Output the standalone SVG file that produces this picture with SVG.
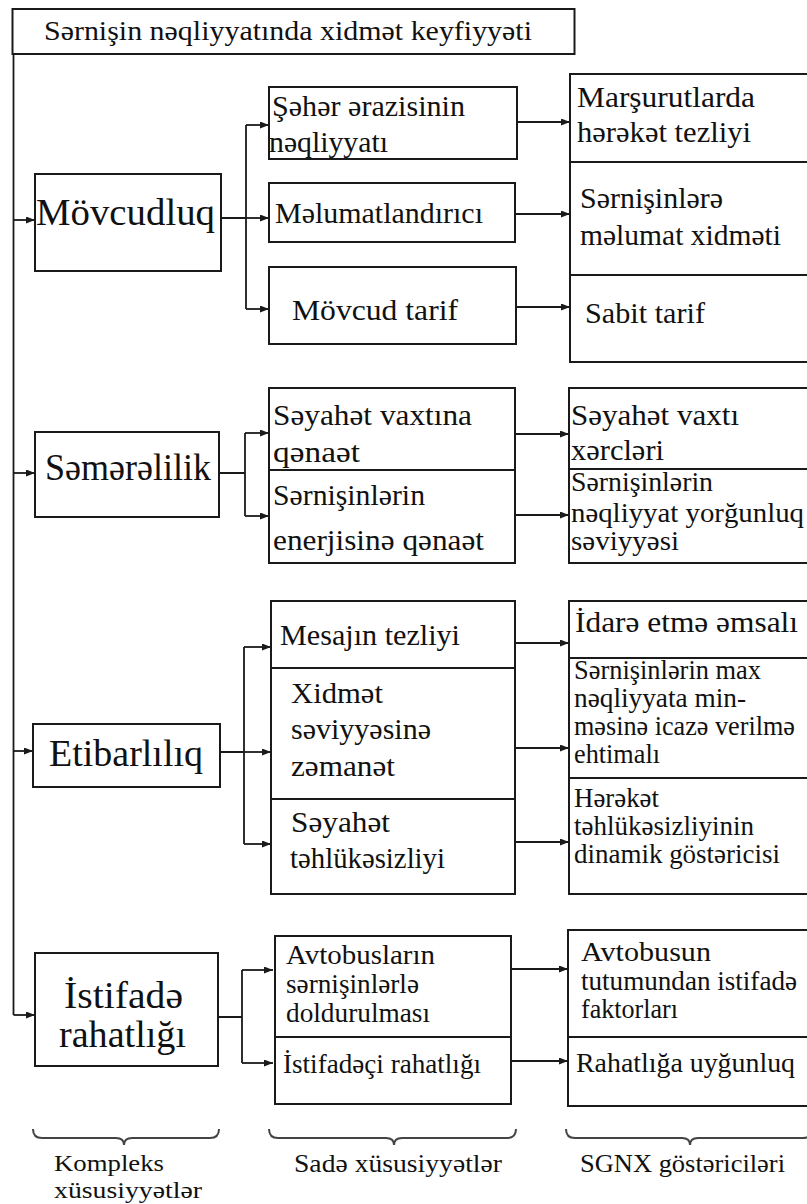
<svg xmlns="http://www.w3.org/2000/svg" width="807" height="1204" viewBox="0 0 807 1204">
<defs>
<style>
.box{fill:#fff;stroke:#1a1a1a;stroke-width:2}
.t{font-family:"Liberation Serif","DejaVu Serif","Times New Roman",serif;fill:#111}
.xl{font-size:37px}
.l{font-size:30px}
.m{font-size:27px}
.s{font-size:27px}
.b{font-size:26px}
.bs{font-size:23px}
.c{fill:none;stroke:#1a1a1a;stroke-width:1.8}
.a{marker-end:url(#arr)}
.br{fill:none;stroke:#444;stroke-width:2}
</style>
<marker id="arr" markerUnits="userSpaceOnUse" markerWidth="9" markerHeight="7" refX="9" refY="3.5" orient="auto">
<path d="M0,0 L9,3.5 L0,7 z" fill="#1a1a1a"/>
</marker>
</defs>
<rect width="807" height="1204" fill="#fff"/>

<g id="connectors">
<path class="c" d="M13.5,54 V1015"/>
<path class="c a" d="M13.5,1015 H35"/>
<path class="c a" d="M13.5,220 H35"/>
<path class="c a" d="M13.5,473 H35"/>
<path class="c a" d="M13.5,751 H33"/>
<path class="c" d="M221,218 H246 M246,125 V309"/>
<path class="c a" d="M246,125 H269"/>
<path class="c a" d="M246,218 H269"/>
<path class="c a" d="M246,309 H269"/>
<path class="c a" d="M517,122 H570"/>
<path class="c a" d="M515,214 H570"/>
<path class="c a" d="M516,307 H570"/>
<path class="c" d="M219,473 H245 M245,433 V516"/>
<path class="c a" d="M245,433 H269"/>
<path class="c a" d="M245,516 H269"/>
<path class="c a" d="M515,434 H569"/>
<path class="c a" d="M515,515 H569"/>
<path class="c" d="M220,752 H244 M244,647 V844"/>
<path class="c a" d="M244,647 H271"/>
<path class="c a" d="M244,752 H271"/>
<path class="c a" d="M244,844 H271"/>
<path class="c a" d="M515,643 H569"/>
<path class="c a" d="M515,748 H569"/>
<path class="c a" d="M515,842 H569"/>
<path class="c" d="M218,1017 H242 M242,970 V1063"/>
<path class="c a" d="M242,970 H273"/>
<path class="c a" d="M242,1063 H273"/>
<path class="c a" d="M511,969 H568"/>
<path class="c a" d="M511,1061 H568"/>
</g>

<g id="title">
<rect class="box" x="12.5" y="9" width="562" height="45"/>
<text class="t" x="44" y="40" font-size="27" textLength="488" lengthAdjust="spacingAndGlyphs">Sərnişin nəqliyyatında xidmət keyfiyyəti</text>
</g>

<g id="movcudluq">
<rect class="box" x="35" y="174" width="186" height="97"/>
<text class="t xl" x="36" y="225" textLength="179" lengthAdjust="spacingAndGlyphs">Mövcudluq</text>
</g>
<g id="m1">
<rect class="box" x="269" y="87" width="248" height="72"/>
<text class="t l" x="272" y="116" textLength="193" lengthAdjust="spacingAndGlyphs">Şəhər ərazisinin</text>
<text class="t l" x="269" y="152" textLength="119" lengthAdjust="spacingAndGlyphs">nəqliyyatı</text>
</g>
<g id="m2">
<rect class="box" x="269" y="183" width="246" height="59"/>
<text class="t l" x="275" y="223" textLength="208" lengthAdjust="spacingAndGlyphs">Məlumatlandırıcı</text>
</g>
<g id="m3">
<rect class="box" x="269" y="267" width="247" height="77"/>
<text class="t l" x="292" y="320" textLength="166" lengthAdjust="spacingAndGlyphs">Mövcud tarif</text>
</g>
<g id="r1">
<rect class="box" x="570" y="74" width="260" height="88"/>
<text class="t l" x="577" y="107" textLength="178" lengthAdjust="spacingAndGlyphs">Marşurutlarda</text>
<text class="t l" x="577" y="142" textLength="174" lengthAdjust="spacingAndGlyphs">hərəkət tezliyi</text>
</g>
<g id="r2">
<rect class="box" x="570" y="162" width="260" height="113"/>
<text class="t l" x="580" y="208" textLength="143" lengthAdjust="spacingAndGlyphs">Sərnişinlərə</text>
<text class="t l" x="580" y="245" textLength="201" lengthAdjust="spacingAndGlyphs">məlumat xidməti</text>
</g>
<g id="r3">
<rect class="box" x="570" y="275" width="260" height="87"/>
<text class="t l" x="585" y="323" textLength="120" lengthAdjust="spacingAndGlyphs">Sabit tarif</text>
</g>

<g id="semerelilik">
<rect class="box" x="35" y="432" width="184" height="85"/>
<text class="t xl" x="45" y="480" textLength="166" lengthAdjust="spacingAndGlyphs">Səmərəlilik</text>
</g>
<g id="s1">
<rect class="box" x="269" y="388" width="246" height="82"/>
<text class="t l" x="273" y="425" textLength="199" lengthAdjust="spacingAndGlyphs">Səyahət vaxtına</text>
<text class="t l" x="273" y="462" textLength="87" lengthAdjust="spacingAndGlyphs">qənaət</text>
</g>
<g id="s2">
<rect class="box" x="269" y="470" width="246" height="93"/>
<text class="t l" x="273" y="505" textLength="152" lengthAdjust="spacingAndGlyphs">Sərnişinlərin</text>
<text class="t l" x="273" y="550" textLength="211" lengthAdjust="spacingAndGlyphs">enerjisinə qənaət</text>
</g>
<g id="sr1">
<rect class="box" x="569" y="388" width="260" height="81"/>
<text class="t l" x="571" y="425" textLength="168" lengthAdjust="spacingAndGlyphs">Səyahət vaxtı</text>
<text class="t l" x="571" y="460" textLength="93" lengthAdjust="spacingAndGlyphs">xərcləri</text>
</g>
<g id="sr2">
<rect class="box" x="569" y="469" width="260" height="94"/>
<text class="t s" x="571" y="491" textLength="142" lengthAdjust="spacingAndGlyphs">Sərnişinlərin</text>
<text class="t s" x="571" y="522" textLength="233" lengthAdjust="spacingAndGlyphs">nəqliyyat yorğunluq</text>
<text class="t s" x="571" y="550" textLength="108" lengthAdjust="spacingAndGlyphs">səviyyəsi</text>
</g>

<g id="etibarliliq">
<rect class="box" x="33" y="724" width="187" height="63"/>
<text class="t xl" x="49" y="766" textLength="154" lengthAdjust="spacingAndGlyphs">Etibarlılıq</text>
</g>
<g id="e1">
<rect class="box" x="271" y="601" width="244" height="67"/>
<text class="t l" x="280" y="645" textLength="180" lengthAdjust="spacingAndGlyphs">Mesajın tezliyi</text>
</g>
<g id="e2">
<rect class="box" x="271" y="668" width="244" height="131"/>
<text class="t l" x="291" y="703" textLength="92" lengthAdjust="spacingAndGlyphs">Xidmət</text>
<text class="t l" x="291" y="739" textLength="140" lengthAdjust="spacingAndGlyphs">səviyyəsinə</text>
<text class="t l" x="291" y="776" textLength="104" lengthAdjust="spacingAndGlyphs">zəmanət</text>
</g>
<g id="e3">
<rect class="box" x="271" y="799" width="244" height="95"/>
<text class="t l" x="291" y="832" textLength="99" lengthAdjust="spacingAndGlyphs">Səyahət</text>
<text class="t l" x="290" y="868" textLength="155" lengthAdjust="spacingAndGlyphs">təhlükəsizliyi</text>
</g>
<g id="er1">
<rect class="box" x="569" y="601" width="260" height="57"/>
<text class="t l" x="575" y="632" textLength="223" lengthAdjust="spacingAndGlyphs">İdarə etmə əmsalı</text>
</g>
<g id="er2">
<rect class="box" x="569" y="658" width="260" height="120"/>
<text class="t s" x="574" y="679" textLength="187" lengthAdjust="spacingAndGlyphs">Sərnişinlərin max</text>
<text class="t s" x="574" y="707" textLength="172" lengthAdjust="spacingAndGlyphs">nəqliyyata min-</text>
<text class="t s" x="574" y="735" textLength="221" lengthAdjust="spacingAndGlyphs">məsinə icazə verilmə</text>
<text class="t s" x="574" y="763" textLength="86" lengthAdjust="spacingAndGlyphs">ehtimalı</text>
</g>
<g id="er3">
<rect class="box" x="569" y="778" width="260" height="116"/>
<text class="t s" x="574" y="807" textLength="85" lengthAdjust="spacingAndGlyphs">Hərəkət</text>
<text class="t s" x="574" y="835" textLength="180" lengthAdjust="spacingAndGlyphs">təhlükəsizliyinin</text>
<text class="t s" x="574" y="863" textLength="206" lengthAdjust="spacingAndGlyphs">dinamik göstəricisi</text>
</g>

<g id="istifade">
<rect class="box" x="35" y="953" width="183" height="113"/>
<text class="t xl" x="64" y="1008" textLength="119" lengthAdjust="spacingAndGlyphs">İstifadə</text>
<text class="t xl" x="59" y="1047" textLength="127" lengthAdjust="spacingAndGlyphs">rahatlığı</text>
</g>
<g id="i1">
<rect class="box" x="275" y="936" width="236" height="101"/>
<text class="t m" x="286" y="964" textLength="149" lengthAdjust="spacingAndGlyphs">Avtobusların</text>
<text class="t m" x="286" y="993" textLength="133" lengthAdjust="spacingAndGlyphs">sərnişinlərlə</text>
<text class="t m" x="286" y="1022" textLength="144" lengthAdjust="spacingAndGlyphs">doldurulması</text>
</g>
<g id="i2">
<rect class="box" x="275" y="1037" width="236" height="67"/>
<text class="t m" x="283" y="1073" textLength="198" lengthAdjust="spacingAndGlyphs">İstifadəçi rahatlığı</text>
</g>
<g id="ir1">
<rect class="box" x="568" y="930" width="260" height="107"/>
<text class="t m" x="581" y="961" textLength="130" lengthAdjust="spacingAndGlyphs">Avtobusun</text>
<text class="t m" x="581" y="990" textLength="216" lengthAdjust="spacingAndGlyphs">tutumundan istifadə</text>
<text class="t m" x="581" y="1018" textLength="97" lengthAdjust="spacingAndGlyphs">faktorları</text>
</g>
<g id="ir2">
<rect class="box" x="568" y="1037" width="260" height="69"/>
<text class="t m" x="576" y="1072" textLength="219" lengthAdjust="spacingAndGlyphs">Rahatlığa uyğunluq</text>
</g>

<g id="braces">
<path class="br" d="M33,1129 Q33,1138 42,1138 H116 Q124,1138 124,1145 Q124,1138 132,1138 H210 Q219,1138 219,1129"/>
<path class="br" d="M269,1129 Q269,1138 278,1138 H386 Q394,1138 394,1145 Q394,1138 402,1138 H507 Q516,1138 516,1129"/>
<path class="br" d="M566,1129 Q566,1138 575,1138 H682 Q690,1138 690,1145 Q690,1138 698,1138 H803 Q812,1138 812,1129"/>
</g>

<g id="labels">
<text class="t bs" x="54" y="1171" textLength="110" lengthAdjust="spacingAndGlyphs">Kompleks</text>
<text class="t bs" x="54" y="1198" textLength="148" lengthAdjust="spacingAndGlyphs">xüsusiyyətlər</text>
<text class="t b" x="294" y="1172" textLength="208" lengthAdjust="spacingAndGlyphs">Sadə xüsusiyyətlər</text>
<text class="t b" x="580" y="1172" textLength="205" lengthAdjust="spacingAndGlyphs">SGNX göstəriciləri</text>
</g>
</svg>
